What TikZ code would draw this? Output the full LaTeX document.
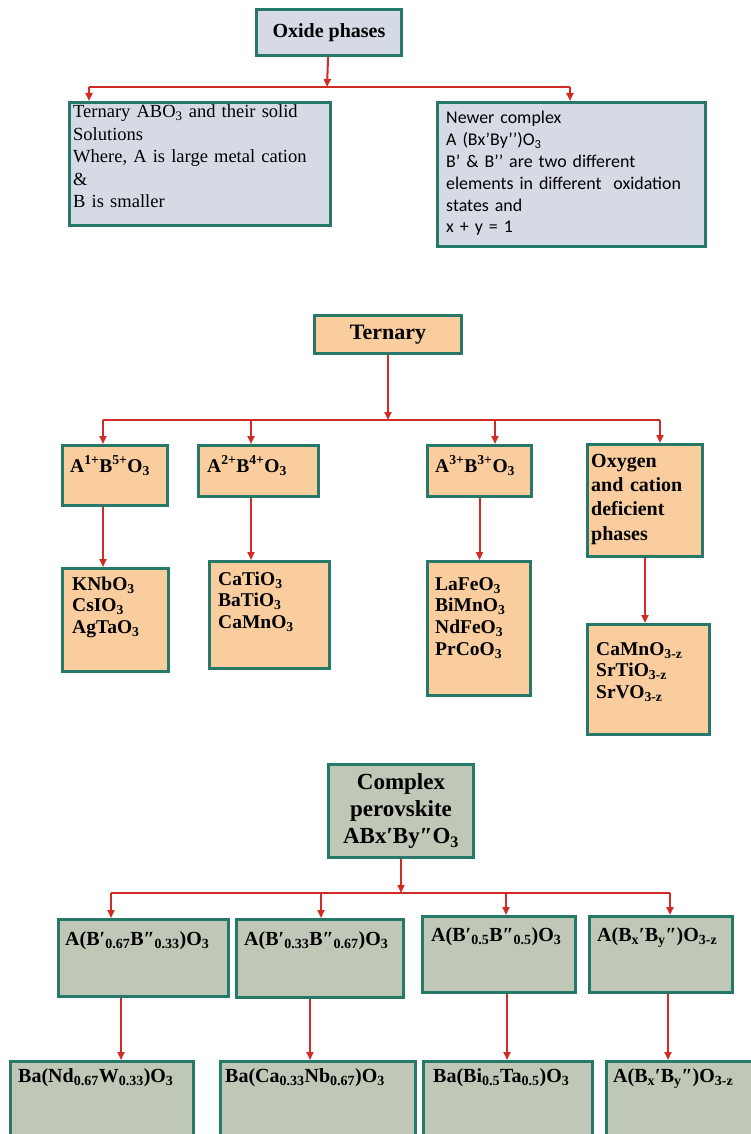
\documentclass[tikz,border=0pt]{standalone}
\usepackage{fontspec}
\setmainfont{Liberation Serif}
\newfontfamily\calibri{Carlito}
\usetikzlibrary{arrows.meta}

\definecolor{edgeteal}{RGB}{38,121,104}
\definecolor{oxfill}{RGB}{214,218,229}
\definecolor{ternfill}{RGB}{249,205,158}
\definecolor{cplxfill}{RGB}{191,199,183}
\definecolor{feedred}{RGB}{210,42,36}

\tikzset{
  card/.style={draw=edgeteal, line width=3pt, anchor=north west, inner sep=0pt},
  oxcard/.style={card, fill=oxfill},
  terncard/.style={card, fill=ternfill},
  cplxcard/.style={card, fill=cplxfill},
  words/.style={anchor=base west, inner sep=0pt, text width=#1, align=left},
  midfont/.style={font=\bfseries\fontsize{19.5pt}{21.7pt}\selectfont},
  lowfont/.style={font=\bfseries\fontsize{20pt}{24pt}\selectfont},
  feed/.style={draw=feedred, line width=2pt},
  drop/.style={feed, -{Triangle[length=8pt,width=7pt]}},
}

\begin{document}
\begin{tikzpicture}[x=1pt,y=-1pt]
\useasboundingbox (0,0) rectangle (750,1134); % page

% ---- oxide phases
\node[oxcard, minimum width=145pt, minimum height=46pt, font=\bfseries\fontsize{20pt}{24pt}\selectfont] (oxide) at (255,8) {Oxide phases};
\node[oxcard, minimum width=261pt, minimum height=123pt] (solid) at (68,101) {}; % ternary ABO3
\node[oxcard, minimum width=268pt, minimum height=144pt] (newer) at (436,101) {}; % newer complex
\node[words=250pt, font=\fontsize{18.5pt}{22.5pt}\selectfont] (solidtxt) at (73,118) {Ternary ABO\textsubscript{3} and their solid\\Solutions\\Where, A is large metal cation\\\&\\B is smaller};
\node[words=255pt, font=\calibri\fontsize{17.9pt}{21.8pt}\selectfont] (newertxt) at (446,124) {Newer complex\\A (Bx’By’’)O\textsubscript{3}\\B’ \& B’’ are two different\\elements in different\ \ oxidation\\states and\\x + y = 1};

\coordinate (oxbus) at (327,87);
\coordinate (oxbusL) at (89,87);
\coordinate (oxbusR) at (570,87);
\draw[drop] (oxide) -- (oxbus); % stem
\draw[feed] (oxbusL) -- (oxbusR); % bus
\draw[drop] (oxbusL) -- (oxbusL |- solid.north);
\draw[drop] (oxbusR) -- (oxbusR |- newer.north);

% ---- ternary
\node[terncard, minimum width=147pt, minimum height=38pt, font=\bfseries\fontsize{22pt}{26pt}\selectfont] (ternary) at (313,314) {Ternary};

\node[terncard, minimum width=105pt, minimum height=60pt] (ab15) at (61,444) {};
\node[terncard, minimum width=120pt, minimum height=51pt] (ab24) at (197,444) {};
\node[terncard, minimum width=104pt, minimum height=51pt] (ab33) at (426,444) {};
\node[terncard, minimum width=115pt, minimum height=112pt] (oxdef) at (586,443) {};
\node[words=100pt, midfont] (ab15txt) at (70,472) {A\textsuperscript{1+}B\textsuperscript{5+}O\textsubscript{3}};
\node[words=110pt, midfont] (ab24txt) at (207,472) {A\textsuperscript{2+}B\textsuperscript{4+}O\textsubscript{3}};
\node[words=100pt, midfont] (ab33txt) at (435,472) {A\textsuperscript{3+}B\textsuperscript{3+}O\textsubscript{3}};
\node[words=110pt, font=\bfseries\fontsize{20pt}{24.4pt}\selectfont] (oxdeftxt) at (591,467) {Oxygen\\and cation\\deficient\\phases};

\node[terncard, minimum width=106pt, minimum height=103pt] (knb) at (61,567) {};
\node[terncard, minimum width=120pt, minimum height=107pt] (cati) at (208,560) {};
\node[terncard, minimum width=103pt, minimum height=134pt] (lafe) at (426,560) {};
\node[terncard, minimum width=122pt, minimum height=110pt] (camn) at (586,623) {};
\node[words=100pt, midfont] (knbtxt) at (72,590) {KNbO\textsubscript{3}\\CsIO\textsubscript{3}\\AgTaO\textsubscript{3}};
\node[words=110pt, midfont] (catitxt) at (218,585) {CaTiO\textsubscript{3}\\BaTiO\textsubscript{3}\\CaMnO\textsubscript{3}};
\node[words=100pt, midfont] (lafetxt) at (435,590) {LaFeO\textsubscript{3}\\BiMnO\textsubscript{3}\\NdFeO\textsubscript{3}\\PrCoO\textsubscript{3}};
\node[words=115pt, midfont] (camntxt) at (596,655) {CaMnO\textsubscript{3-z}\\SrTiO\textsubscript{3-z}\\SrVO\textsubscript{3-z}};

\coordinate (tb1) at (103,420);
\coordinate (tb2) at (251,420);
\coordinate (tb3) at (495,420);
\coordinate (tb4) at (660,420);
\draw[drop] (ternary) -- (ternary |- tb1); % stem
\draw[feed] (tb1) -- (tb4); % bus
\draw[drop] (tb1) -- (tb1 |- ab15.north);
\draw[drop] (tb2) -- (tb2 |- ab24.north);
\draw[drop] (tb3) -- (tb3 |- ab33.north);
\draw[drop] (tb4) -- (tb4 |- oxdef.north);
\draw[drop] (tb1 |- ab15.south) -- (tb1 |- knb.north);
\draw[drop] (tb2 |- ab24.south) -- (tb2 |- cati.north);
\draw[drop] (ab33.south) -- (ab33.south |- lafe.north);
\draw[drop] (oxdef.south) -- (oxdef.south |- camn.north);

% ---- complex perovskite
\node[cplxcard, minimum width=145pt, minimum height=93pt, align=center, font=\bfseries\fontsize{23pt}{27pt}\selectfont] (cplx) at (327,763) {Complex\\perovskite\\ABx′By″O\textsubscript{3}};

\node[cplxcard, minimum width=170pt, minimum height=77pt] (bp1) at (57,918) {};
\node[cplxcard, minimum width=167pt, minimum height=78pt] (bp2) at (235,918) {};
\node[cplxcard, minimum width=153pt, minimum height=76pt] (bp3) at (421,915) {};
\node[cplxcard, minimum width=143pt, minimum height=76pt] (bp4) at (588,915) {};
\node[words=165pt, lowfont] (bp1txt) at (65,945) {A(B′\textsubscript{0.67}B″\textsubscript{0.33})O\textsubscript{3}};
\node[words=160pt, lowfont] (bp2txt) at (244,945) {A(B′\textsubscript{0.33}B″\textsubscript{0.67})O\textsubscript{3}};
\node[words=145pt, lowfont] (bp3txt) at (431,941) {A(B′\textsubscript{0.5}B″\textsubscript{0.5})O\textsubscript{3}};
\node[words=135pt, lowfont] (bp4txt) at (597,941) {A(B\textsubscript{x}′B\textsubscript{y}″)O\textsubscript{3-z}};

\node[cplxcard, minimum width=183pt, minimum height=80pt] (bx1) at (9,1060) {};
\node[cplxcard, minimum width=195pt, minimum height=80pt] (bx2) at (219,1060) {};
\node[cplxcard, minimum width=169pt, minimum height=80pt] (bx3) at (422,1060) {};
\node[cplxcard, minimum width=155pt, minimum height=80pt] (bx4) at (605,1060) {};
\node[words=180pt, lowfont] (bx1txt) at (18,1082) {Ba(Nd\textsubscript{0.67}W\textsubscript{0.33})O\textsubscript{3}};
\node[words=185pt, lowfont] (bx2txt) at (225,1082) {Ba(Ca\textsubscript{0.33}Nb\textsubscript{0.67})O\textsubscript{3}};
\node[words=160pt, lowfont] (bx3txt) at (433,1082) {Ba(Bi\textsubscript{0.5}Ta\textsubscript{0.5})O\textsubscript{3}};
\node[words=140pt, lowfont] (bx4txt) at (613,1082) {A(B\textsubscript{x}′B\textsubscript{y}″)O\textsubscript{3-z}};

\coordinate (cb1) at (111,893);
\coordinate (cb2) at (321,893);
\coordinate (cb3) at (506,893);
\coordinate (cb4) at (670,893);
\draw[drop] (cplx) -- (cplx |- cb1); % stem
\draw[feed] (cb1) -- (cb4); % bus
\draw[drop] (cb1) -- (cb1 |- bp1.north);
\draw[drop] (cb2) -- (cb2 |- bp2.north);
\draw[drop] (cb3) -- (cb3 |- bp3.north);
\draw[drop] (cb4) -- (cb4 |- bp4.north);

\coordinate (d1) at (121,1030);
\coordinate (d2) at (310,1030);
\coordinate (d3) at (507,1030);
\coordinate (d4) at (668,1030);
\draw[drop] (d1 |- bp1.south) -- (d1 |- bx1.north);
\draw[drop] (d2 |- bp2.south) -- (d2 |- bx2.north);
\draw[drop] (d3 |- bp3.south) -- (d3 |- bx3.north);
\draw[drop] (d4 |- bp4.south) -- (d4 |- bx4.north);

\end{tikzpicture}
\end{document}
